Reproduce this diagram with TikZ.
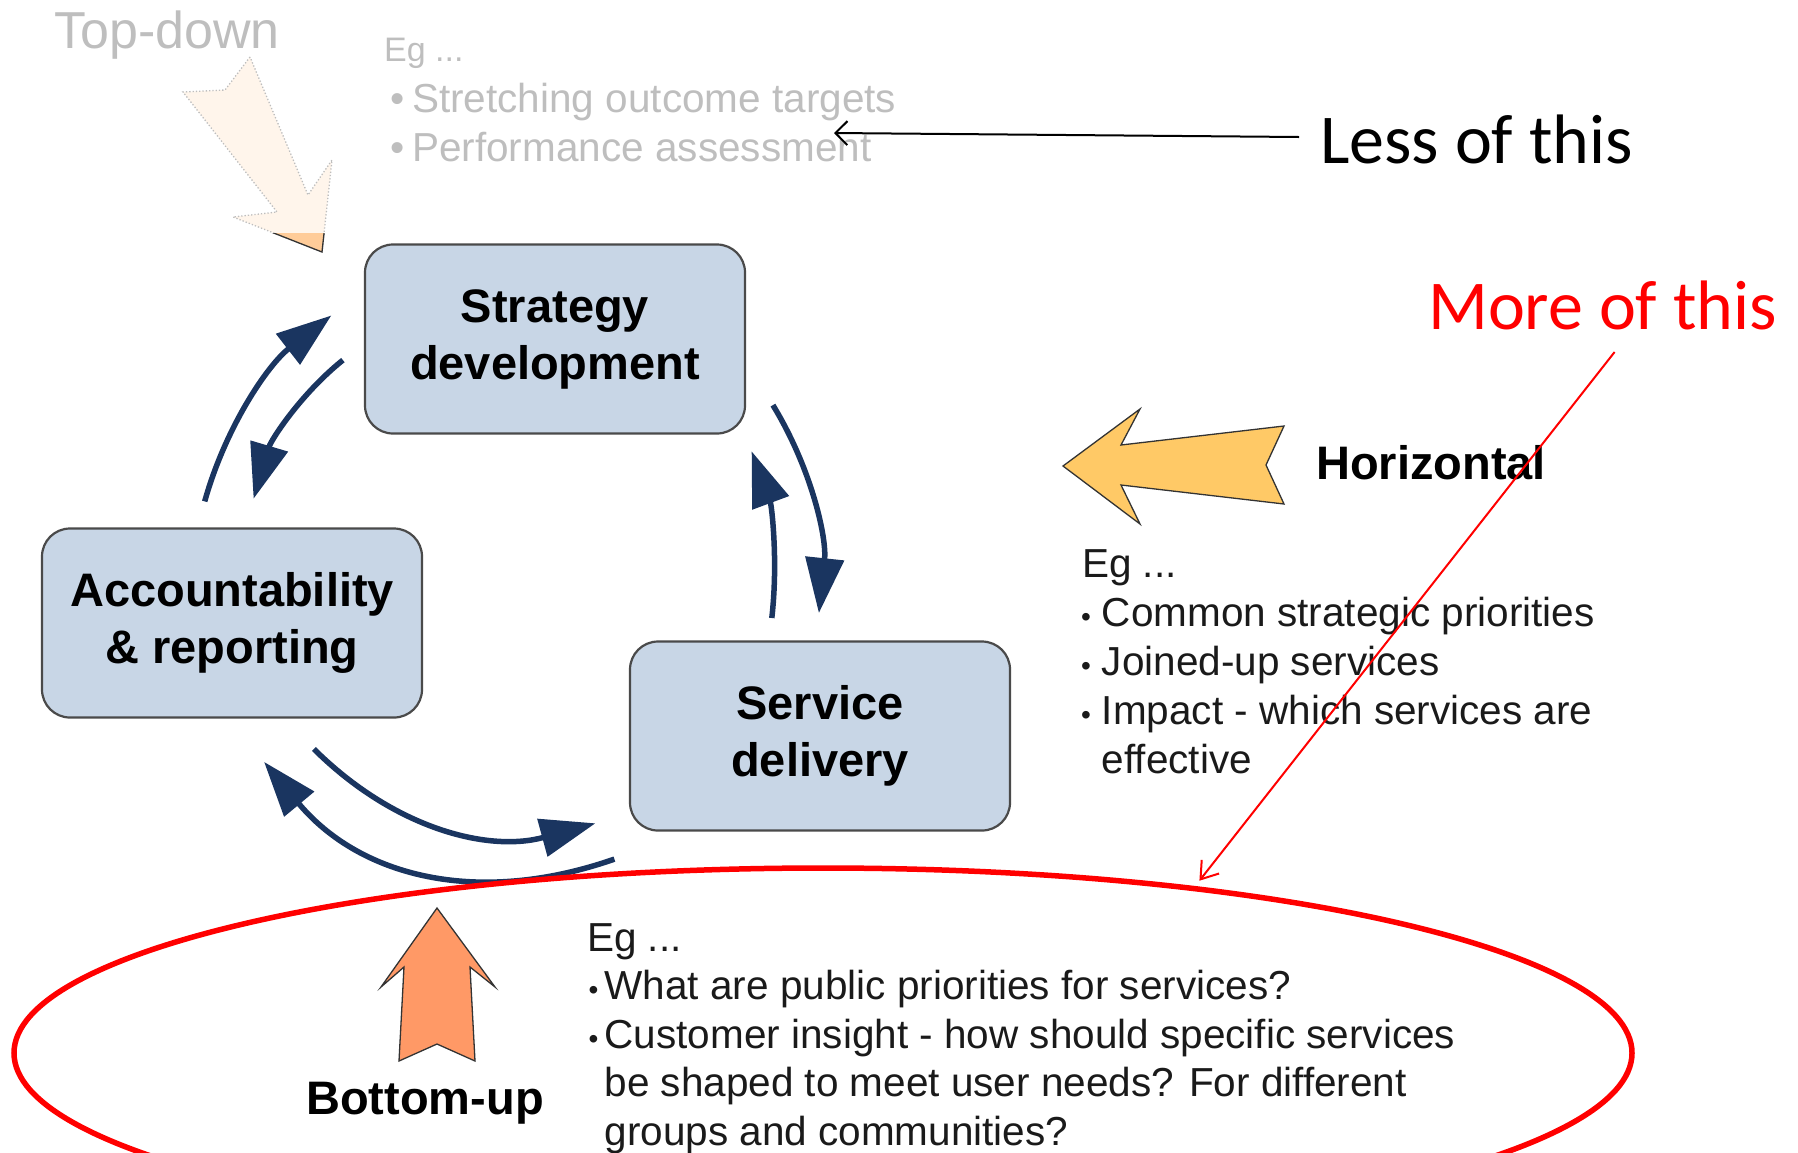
\documentclass[tikz,border=0pt]{standalone}
\usepackage{fontspec}
\setmainfont{Liberation Sans}
\newfontfamily\calib{Carlito}
\usetikzlibrary{arrows.meta}
\definecolor{navy}{HTML}{1A3560}
\definecolor{boxfill}{HTML}{C8D6E6}
\definecolor{boxline}{HTML}{4A4A4A}
\definecolor{peach}{HTML}{FFCC99}
\definecolor{hyellow}{HTML}{FFC966}
\definecolor{borange}{HTML}{FF9966}
\definecolor{faded}{HTML}{BEBEBE}
\definecolor{txt}{HTML}{1A1A1A}
\begin{document}
\begin{tikzpicture}[x=1pt,y=-1pt,
  cyclebox/.style={draw=boxline, line width=2.2pt, fill=boxfill, rounded corners=28pt,
    minimum width=380pt, minimum height=189pt, align=center,
    font=\fontsize{47}{57}\selectfont\bfseries, inner sep=0pt},
  cyc/.style={draw=navy, line width=5.5pt, -{Triangle[length=55pt,width=38pt]}},
  lbl/.style={anchor=base west, inner sep=0pt},
  body/.style={lbl, text=txt, font=\fontsize{40.5}{49}\selectfont},
  fadedtxt/.style={lbl, text=faded, font=\fontsize{40.5}{49}\selectfont},
  head/.style={lbl, font=\fontsize{47}{57}\selectfont\bfseries},
  blockarrow/.style={draw=black!80, line width=1.3pt},
  pointer/.style={line width=2pt}
]
\useasboundingbox (0,0) rectangle (1798,1152);
\clip (0,0) rectangle (1798,1152);

% ---------- faded top-down arrow ----------
\fill[peach!20] (250,57) -- (225,90) -- (183,92) -- (277,212) -- (233,217) -- (322,252) -- (332,160) -- (308,195) -- cycle;
\draw[faded, line width=1.3pt, dotted] (250,57) -- (225,90) -- (183,92) -- (277,212) -- (233,217) -- (322,252) -- (332,160) -- (308,195) -- cycle;
\begin{scope}
  \clip (0,233) rectangle (400,262);
  \fill[peach] (250,57) -- (225,90) -- (183,92) -- (277,212) -- (233,217) -- (322,252) -- (332,160) -- (308,195) -- cycle;
  \draw[blockarrow] (250,57) -- (225,90) -- (183,92) -- (277,212) -- (233,217) -- (322,252) -- (332,160) -- (308,195) -- cycle;
\end{scope}

% ---------- faded top texts ----------
\node[lbl, text=faded, font=\fontsize{52}{62}\selectfont] (topdown) at (54,48) {Top-down};
\node[lbl, text=faded, font=\fontsize{34}{40}\selectfont] (egtop) at (384,61) {Eg ...};
\node[fadedtxt] (stretch) at (412,112) {\llap{•\kern8pt}Stretching outcome targets};
\node[fadedtxt] (perf) at (412,161) {\llap{•\kern8pt}Performance assessment};

% ---------- cycle boxes ----------
\node[cyclebox] (strat) at (555,339) {Strategy\\development};
\node[cyclebox] (acc) at (232,623) {Accountability\\\& reporting};
\node[cyclebox] (serv) at (820,736) {Service\\delivery};

% ---------- cycle arrows ----------
\coordinate (a1s) at (204.7,501.4); \coordinate (a1e) at (331.3,315.5);
\coordinate (a2s) at (342.9,360.1); \coordinate (a2e) at (253.6,498.7);
\coordinate (b1s) at (772.9,405.1); \coordinate (b1e) at (818.9,613);
\coordinate (b2s) at (771.8,618);   \coordinate (b2e) at (751.6,451.3);
\coordinate (c1s) at (313.9,749);   \coordinate (c1e) at (595.4,823.3);
\coordinate (c2s) at (614.4,859.1); \coordinate (c2e) at (264.1,761.9);
\draw[cyc] (a1s) .. controls (225.6,426.8) and (267.8,364.9) .. (a1e);
\draw[cyc] (a2s) .. controls (300.8,393.8) and (271,440) .. (a2e);
\draw[cyc] (b1s) .. controls (811.6,468.6) and (826.9,537.9) .. (b1e);
\draw[cyc] (b2s) .. controls (778.3,560.9) and (771.6,505.3) .. (b2e);
\draw[cyc] (c1s) .. controls (393.4,827.9) and (487.3,852.7) .. (c1e);
\draw[cyc] (c2s) .. controls (475.2,907.6) and (358.4,875.2) .. (c2e);

% ---------- horizontal arrow ----------
\filldraw[fill=hyellow, blockarrow] (1063,466) -- (1140,409) -- (1121,445) -- (1284,426) -- (1266,465) -- (1284,504) -- (1121,485) -- (1140,524) -- cycle;
\node[head] (horiz) at (1316,479.5) {Horizontal};
\node[body] (heg) at (1082,577.5) {Eg ...};
\node[body] (h1) at (1101.7,626.5) {\llap{{\fontsize{28}{28}\selectfont •}\kern11pt}Common strategic priorities};
\node[body] (h2) at (1101.7,675.5) {\llap{{\fontsize{28}{28}\selectfont •}\kern11pt}Joined-up services};
\node[body] (h3) at (1101.7,724.5) {\llap{{\fontsize{28}{28}\selectfont •}\kern11pt}Impact - which services are};
\node[body] (h4) at (1101.7,773.5) {effective};

% ---------- bottom-up arrow ----------
\filldraw[fill=borange, blockarrow] (437,908) -- (495,987) -- (470,967) -- (475,1061) -- (437,1044) -- (399,1061) -- (404,967) -- (381,987) -- cycle;
\node[head] (bottomup) at (306,1114) {Bottom-up};
\node[body] (beg) at (587,951) {Eg ...};
\node[body] (bl1) at (604.3,999.5) {\llap{{\fontsize{28}{28}\selectfont •}\kern6pt}What are public priorities for services?};
\node[body] (bl2) at (604.3,1048) {\llap{{\fontsize{28}{28}\selectfont •}\kern6pt}Customer insight - how should specific services};
\node[body] (bl3) at (604.3,1096.5) {be shaped to meet user needs? For different};
\node[body] (bl4) at (604.3,1145) {groups and communities?};

% ---------- red ellipse ----------
\draw[red, line width=5.5pt] (823,1053) ellipse [x radius=809pt, y radius=185pt];

% ---------- annotations ----------
\node[lbl, font=\calib\fontsize{70}{84}\selectfont] (less) at (1320,163) {Less of this};
\node[lbl, text=red, font=\calib\fontsize{70}{84}\selectfont] (more) at (1428,329) {More of this};
\coordinate (lessA) at (1299,137); \coordinate (lessB) at (834,133);
\coordinate (moreA) at (1614.6,352); \coordinate (moreB) at (1199.4,880.7);
\draw[pointer, black, -{Straight Barb[length=12pt,width=24pt]}] (lessA) -- (lessB);
\draw[pointer, red, -{Straight Barb[length=16pt,width=22pt]}] (moreA) -- (moreB);
\end{tikzpicture}
\end{document}
